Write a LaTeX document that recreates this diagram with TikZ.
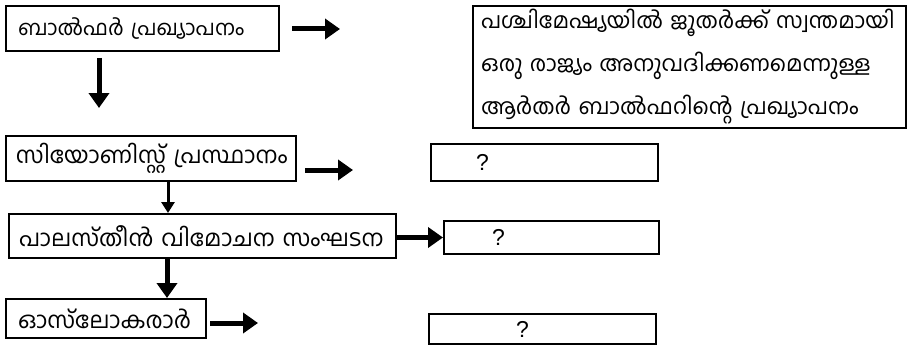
\documentclass[tikz,border=0pt]{standalone}
\usepackage{fontspec}
\usetikzlibrary{arrows.meta}
\newfontfamily\mlfont[Script=Malayalam]{Hind Kochi}
\newfontfamily\qfont{Liberation Sans}
\begin{document}
\begin{tikzpicture}[x=1pt,y=-1pt,
  box/.style={draw=black, line width=2pt, anchor=north west, align=left,
    font=\mlfont\fontsize{23}{43}\selectfont, inner ysep=0pt},
  qbox/.style={draw=black, line width=2pt, anchor=north west, align=left,
    font=\qfont\fontsize{23}{24}\selectfont, inner ysep=0pt},
  arr/.style={line width=5pt, -{Triangle[length=15pt,width=20pt]}},
  arrs/.style={line width=3pt, -{Triangle[length=11pt,width=13pt]}}]
\useasboundingbox[fill=white] (0,0) rectangle (907,345);

\node[box, font=\mlfont\fontsize{21}{43}\selectfont, minimum width=273pt, minimum height=45pt, text width=249pt, inner xsep=12pt] (b1) at (5,5) {\mbox{ബാൽഫർ പ്രഖ്യാപനം}};
\node[box, minimum width=290pt, minimum height=45pt, text width=270pt, inner xsep=10pt] (b2) at (5,135) {\mbox{സിയോണിസ്റ്റ് പ്രസ്ഥാനം}};
\node[box, minimum width=387pt, minimum height=44pt, text width=367pt, inner xsep=10pt] (b3) at (8,213) {\mbox{പാലസ്തീൻ വിമോചന സംഘടന}};
\node[box, minimum width=200pt, minimum height=39pt, text width=176pt, inner xsep=12pt] (b4) at (5,298) {\mbox{ഓസ്‌ലോകരാർ}};

\node[box, font=\mlfont\fontsize{22}{43}\selectfont, minimum width=433pt, minimum height=122pt, text width=417pt, inner xsep=8pt] (big) at (472,5)
  {\mbox{പശ്ചിമേഷ്യയിൽ ജൂതർക്ക് സ്വന്തമായി}\\\mbox{ഒരു രാജ്യം അനുവദിക്കണമെന്നുള്ള}\\\mbox{ആർതർ ബാൽഫറിന്റെ പ്രഖ്യാപനം}};

\node[qbox, minimum width=227pt, minimum height=37pt, text width=179pt, inner xsep=24pt] (q1) at (430,143) {\hspace{21pt}?};
\node[qbox, minimum width=215pt, minimum height=33pt, text width=167pt, inner xsep=24pt] (q2) at (443,220) {\hspace{24pt}?};
\node[qbox, minimum width=227pt, minimum height=30pt, text width=179pt, inner xsep=24pt] (q3) at (428,313) {\hspace{63pt}?};

\coordinate (e1) at (340,29);
\coordinate (s1) at (292,29);
\coordinate (e3) at (353,170);
\coordinate (s3) at (305,170);
\coordinate (e7) at (258,323);
\coordinate (s7) at (210,323);
\coordinate (s2) at (99,58);
\coordinate (e2) at (99,108);

\draw[arr] (s1) -- (e1);
\draw[arr] (s2) -- (e2);
\draw[arr] (s3) -- (e3);
\draw[arrs] (b2.south west -| 168,0) -- (b3.north west -| 168,0);
\draw[arr] (q2.west -| b3.east) -- (q2.west);
\draw[arr] (b3.south west -| 167,0) -- (b4.north west -| 167,0);
\draw[arr] (s7) -- (e7);
\end{tikzpicture}
\end{document}
